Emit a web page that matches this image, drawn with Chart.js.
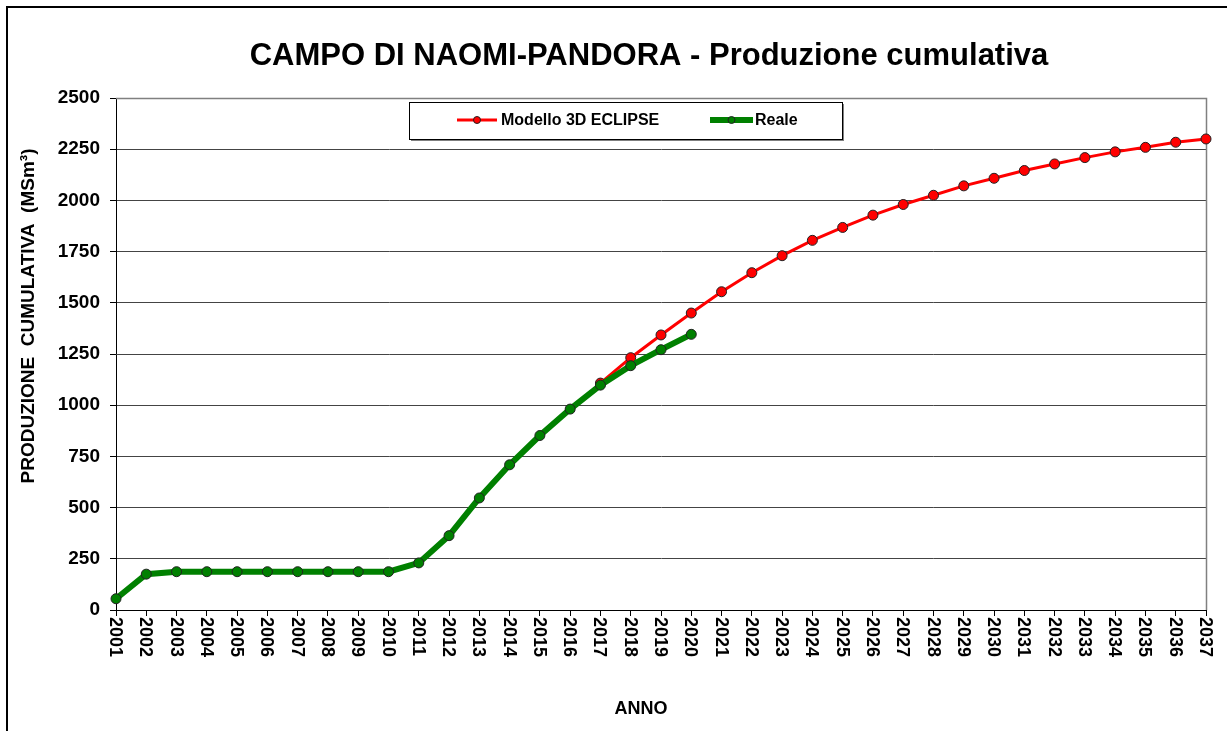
<!DOCTYPE html>
<html><head><meta charset="utf-8">
<script src="https://cdn.jsdelivr.net/npm/chart.js@4.4.0/dist/chart.umd.min.js"></script>
<style>html,body{margin:0;padding:0;background:#fff;}#wrap{width:1227px;height:731px;position:relative;}</style>
</head><body><div id="wrap"><canvas id="c" width="1227" height="731"></canvas></div>
<script>
const years = ['2001','2002','2003','2004','2005','2006','2007','2008','2009','2010','2011','2012','2013','2014','2015','2016','2017','2018','2019','2020','2021','2022','2023','2024','2025','2026','2027','2028','2029','2030','2031','2032','2033','2034','2035','2036','2037'];
const modello = [null,null,null,null,null,null,null,null,null,null,null,null,null,null,null,null,1108,1232,1343,1450,1554,1647,1730,1805,1868,1928,1980,2025,2071,2108,2146,2178,2209,2237,2259,2284,2300];
const reale = [55,175,187,187,187,187,187,187,187,187,230,363,547,709,852,981,1098,1193,1271,1346,null,null,null,null,null,null,null,null,null,null,null,null,null,null,null,null,null];
const yMin = 0, yMax = 2500, yStep = 250;
const titleText = 'CAMPO DI NAOMI-PANDORA - Produzione cumulativa';
const yTitle = 'PRODUZIONE  CUMULATIVA  (MSm\u00B3)';
const xTitle = 'ANNO';
const seriesNames = ['Modello 3D ECLIPSE', 'Reale'];

const FONT = "'Liberation Sans', Arial, sans-serif";

const decor = {
  id: 'decor',
  beforeDraw(chart) {
    const ctx = chart.ctx;
    ctx.save();
    ctx.fillStyle = '#fff';
    ctx.fillRect(0, 0, chart.width, chart.height);
    ctx.fillStyle = '#000';
    ctx.fillRect(6, 6, 2, chart.height - 6);
    ctx.fillRect(6, 6, chart.width - 6, 2);
    ctx.restore();
  },
  beforeDatasetsDraw(chart) {
    const ctx = chart.ctx, a = chart.chartArea;
    ctx.save();
    ctx.strokeStyle = '#808080';
    ctx.lineWidth = 1.5;
    ctx.beginPath();
    ctx.moveTo(a.left, a.top + 0.5);
    ctx.lineTo(a.right + 0.5, a.top + 0.5);
    ctx.lineTo(a.right + 0.5, a.bottom);
    ctx.stroke();
    ctx.restore();
  },
  afterDraw(chart) {
    const ctx = chart.ctx, a = chart.chartArea, xs = chart.scales.x;
    ctx.save();
    ctx.fillStyle = '#000';
    // title
    ctx.font = 'bold 31px ' + FONT;
    ctx.textAlign = 'center';
    ctx.textBaseline = 'alphabetic';
    ctx.fillText(titleText, 649, 65);
    // x tick labels, rotated clockwise
    ctx.font = 'bold 18px ' + FONT;
    xs.ticks.forEach((t, i) => {
      const x = xs.getPixelForTick(i);
      ctx.save();
      ctx.translate(x, a.bottom + 7);
      ctx.rotate(Math.PI / 2);
      ctx.textAlign = 'left';
      ctx.textBaseline = 'middle';
      ctx.fillText(years[i], 0, 1);
      ctx.restore();
    });
    // x title
    ctx.font = 'bold 18px ' + FONT;
    ctx.textAlign = 'center';
    ctx.textBaseline = 'alphabetic';
    ctx.fillText(xTitle, 641, 714);
    // y title
    ctx.save();
    ctx.translate(34, 316);
    ctx.rotate(-Math.PI / 2);
    ctx.font = 'bold 19px ' + FONT;
    ctx.textAlign = 'center';
    ctx.fillText(yTitle, 0, 0);
    ctx.restore();
    // legend
    const lx = 409, ly = 102, lw = 433, lh = 37;
    ctx.fillStyle = '#808080';
    ctx.fillRect(lx + 2, ly + 2, lw, lh);
    ctx.fillStyle = '#fff';
    ctx.fillRect(lx, ly, lw, lh);
    ctx.strokeStyle = '#000';
    ctx.lineWidth = 1;
    ctx.strokeRect(lx + 0.5, ly + 0.5, lw, lh);
    const ds = chart.data.datasets;
    const items = [{x0: 457, x1: 497, tx: 501}, {x0: 710, x1: 753, tx: 755}];
    items.forEach((it, i) => {
      const d = ds[i];
      const cy = 120;
      ctx.strokeStyle = d.borderColor;
      ctx.lineWidth = i === 0 ? 3 : 6;
      ctx.beginPath();
      ctx.moveTo(it.x0, cy); ctx.lineTo(it.x1, cy); ctx.stroke();
      ctx.beginPath();
      ctx.arc((it.x0 + it.x1) / 2, cy, 3.5, 0, Math.PI * 2);
      ctx.fillStyle = d.pointBackgroundColor;
      ctx.fill();
      ctx.lineWidth = 1;
      ctx.strokeStyle = '#222';
      ctx.stroke();
      ctx.fillStyle = '#000';
      ctx.font = 'bold 16px ' + FONT;
      ctx.textAlign = 'left';
      ctx.textBaseline = 'middle';
      ctx.fillText(seriesNames[i], it.tx, cy + 1);
    });
    ctx.restore();
  }
};

new Chart(document.getElementById('c'), {
  type: 'line',
  data: {
    labels: years,
    datasets: [
      {label: seriesNames[0], data: modello, borderColor: '#FF0000', backgroundColor: '#FF0000', borderWidth: 3,
       pointRadius: 5, pointBackgroundColor: '#FF0000', pointBorderColor: '#222', pointBorderWidth: 1,
       tension: 0, order: 1, clip: false, spanGaps: false},
      {label: seriesNames[1], data: reale, borderColor: '#008000', backgroundColor: '#008000', borderWidth: 6,
       pointRadius: 5, pointBackgroundColor: '#008000', pointBorderColor: '#222', pointBorderWidth: 1,
       tension: 0, order: 0, clip: false, spanGaps: false}
    ]
  },
  options: {
    responsive: false,
    animation: false,
    devicePixelRatio: 1,
    layout: {padding: {left: 0, top: 98, right: 21, bottom: 0}},
    plugins: {legend: {display: false}, title: {display: false}, tooltip: {enabled: false}},
    scales: {
      x: {
        type: 'category',
        offset: false,
        grid: {drawOnChartArea: false, drawTicks: true, tickLength: 6, tickColor: '#000'},
        border: {display: true, color: '#000', width: 1},
        ticks: {display: false, autoSkip: false},
        afterFit(s) { s.height = 121; }
      },
      y: {
        min: yMin, max: yMax,
        grid: {color: '#444', lineWidth: 1, drawTicks: true, tickLength: 6, tickColor: '#000'},
        border: {display: true, color: '#000', width: 1},
        ticks: {stepSize: yStep, color: '#000', padding: 10, font: {family: FONT, size: 19, weight: 'bold'},
                callback: (v) => String(v)},
        afterFit(s) { s.width = 116; }
      }
    }
  },
  plugins: [decor]
});
</script>
</body></html>
